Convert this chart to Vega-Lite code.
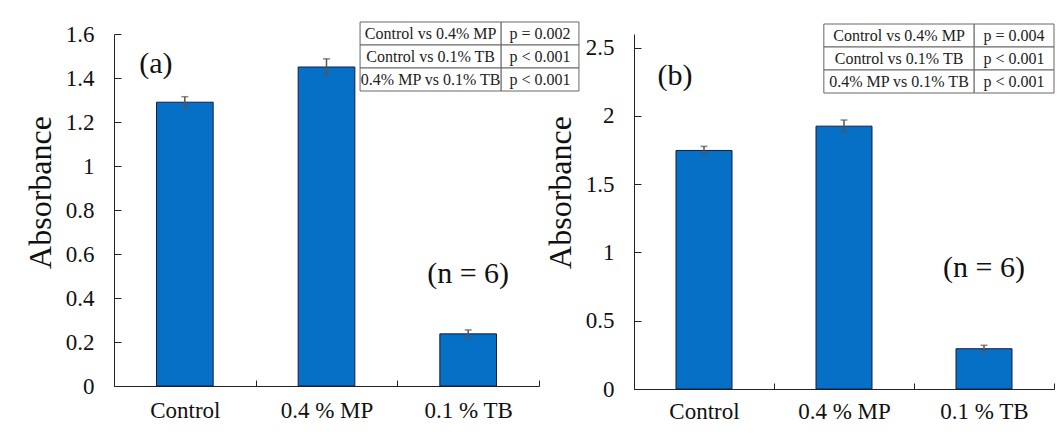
{
  "$schema": "https://vega.github.io/schema/vega-lite/v6.json",
  "background": "white",
  "padding": {"left": 24, "top": 21, "right": 5, "bottom": 5},
  "bounds": "flush",
  "spacing": 95,
  "datasets": {
    "a": [
      {"group": "Control", "value": 1.29, "err": 0.025},
      {"group": "0.4 % MP", "value": 1.45, "err": 0.037},
      {"group": "0.1 % TB", "value": 0.237, "err": 0.018}
    ],
    "b": [
      {"group": "Control", "value": 1.747, "err": 0.03},
      {"group": "0.4 % MP", "value": 1.925, "err": 0.045},
      {"group": "0.1 % TB", "value": 0.295, "err": 0.025}
    ],
    "ta": [
      {"row": 1, "comp": "Control vs 0.4% MP", "p": "p = 0.002"},
      {"row": 2, "comp": "Control vs 0.1% TB", "p": "p < 0.001"},
      {"row": 3, "comp": "0.4% MP vs 0.1% TB", "p": "p < 0.001"}
    ],
    "tb": [
      {"row": 1, "comp": "Control vs 0.4% MP", "p": "p = 0.004"},
      {"row": 2, "comp": "Control vs 0.1% TB", "p": "p < 0.001"},
      {"row": 3, "comp": "0.4% MP vs 0.1% TB", "p": "p < 0.001"}
    ]
  },
  "config": {
    "font": "Liberation Serif",
    "view": {"stroke": null},
    "axis": {
      "grid": false,
      "domainColor": "#222",
      "tickColor": "#222",
      "labelColor": "#111",
      "titleColor": "#111",
      "labelFont": "Liberation Serif",
      "titleFont": "Liberation Serif",
      "titleFontWeight": "normal"
    }
  },
  "hconcat": [
    {
      "width": 425,
      "height": 352,
      "layer": [
        {
          "data": {"name": "a"},
          "layer": [
            {
              "mark": {"type": "bar", "width": {"band": 0.4}, "fill": "#0570C6", "stroke": "#1b1b3a", "strokeWidth": 1},
              "encoding": {
                "x": {"field": "group", "type": "nominal", "sort": null,
                  "scale": {"domain": ["Control", "0.4 % MP", "0.1 % TB"], "paddingInner": 0, "paddingOuter": 0},
                  "axis": {"title": null, "labelAngle": 0, "labelFont": "Liberation Serif", "labelFontSize": 23, "tickSize": -6, "tickBand": "extent", "labelPadding": 19}},
                "y": {"field": "value", "type": "quantitative", "scale": {"domain": [0, 1.6]},
                  "axis": {"title": "Absorbance", "values": [0, 0.2, 0.4, 0.6, 0.8, 1, 1.2, 1.4, 1.6], "format": "~g", "labelFont": "Liberation Serif", "titleFont": "Liberation Serif", "labelFontSize": 23, "titleFontSize": 32, "tickSize": -7, "labelPadding": 27, "titlePadding": 8, "titleY": 158}}
              }
            },
            {
              "mark": {"type": "errorbar", "ticks": {"size": 7}, "color": "#555", "thickness": 1.5},
              "encoding": {
                "x": {"field": "group", "type": "nominal", "sort": null},
                "y": {"field": "value", "type": "quantitative", "title": "Absorbance"},
                "yError": {"field": "err"}
              }
            },
            {
              "data": {"values": [{"label": "(a)", "group": "Control", "y": 1.465}]},
              "mark": {"type": "text", "fontSize": 30, "align": "center", "dx": -29, "color": "#111"},
              "encoding": {
                "x": {"field": "group", "type": "nominal"},
                "y": {"field": "y", "type": "quantitative"},
                "text": {"field": "label"}
              }
            },
            {
              "data": {"values": [{"label": "(n = 6)", "group": "0.1 % TB", "y": 0.51}]},
              "mark": {"type": "text", "fontSize": 30, "align": "center", "color": "#111"},
              "encoding": {
                "x": {"field": "group", "type": "nominal"},
                "y": {"field": "y", "type": "quantitative"},
                "text": {"field": "label"}
              }
            }
          ]
        },
        {
          "data": {"name": "ta"},
          "encoding": {
            "y": {"field": "row", "type": "ordinal", "axis": null, "scale": {"range": [-12, 57], "paddingInner": 0, "paddingOuter": 0}}
          },
          "layer": [
            {
              "mark": {"type": "rect", "fill": "white", "stroke": "#666", "strokeWidth": 1},
              "encoding": {
                "x": {"datum": 0.579, "type": "quantitative", "scale": {"domain": [0, 1], "nice": false, "zero": false}, "axis": null},
                "x2": {"datum": 0.911}
              }
            },
            {
              "mark": {"type": "rect", "fill": "white", "stroke": "#666", "strokeWidth": 1},
              "encoding": {
                "x": {"datum": 0.911, "type": "quantitative"},
                "x2": {"datum": 1.094}
              }
            },
            {
              "mark": {"type": "text", "fontSize": 16, "color": "#222"},
              "encoding": {
                "x": {"datum": 0.745, "type": "quantitative"},
                "text": {"field": "comp"}
              }
            },
            {
              "mark": {"type": "text", "fontSize": 16, "color": "#222"},
              "encoding": {
                "x": {"datum": 1.0025, "type": "quantitative"},
                "text": {"field": "p"}
              }
            }
          ]
        }
      ],
      "resolve": {"scale": {"x": "independent", "y": "independent"}}
    },
    {
      "width": 420,
      "height": 355,
      "layer": [
        {
          "data": {"name": "b"},
          "layer": [
            {
              "mark": {"type": "bar", "width": {"band": 0.4}, "fill": "#0570C6", "stroke": "#1b1b3a", "strokeWidth": 1},
              "encoding": {
                "x": {"field": "group", "type": "nominal", "sort": null,
                  "scale": {"domain": ["Control", "0.4 % MP", "0.1 % TB"], "paddingInner": 0, "paddingOuter": 0},
                  "axis": {"title": null, "labelAngle": 0, "labelFont": "Liberation Serif", "labelFontSize": 23, "tickSize": -6, "tickBand": "extent", "labelPadding": 17}},
                "y": {"field": "value", "type": "quantitative", "scale": {"domain": [0, 2.5]},
                  "axis": {"title": "Absorbance", "values": [0, 0.5, 1, 1.5, 2, 2.5], "format": "~g", "labelFont": "Liberation Serif", "titleFont": "Liberation Serif", "labelFontSize": 23, "titleFontSize": 32, "tickSize": -7, "labelPadding": 27, "titlePadding": 8, "titleY": 158}}
              }
            },
            {
              "mark": {"type": "errorbar", "ticks": {"size": 7}, "color": "#555", "thickness": 1.5},
              "encoding": {
                "x": {"field": "group", "type": "nominal", "sort": null},
                "y": {"field": "value", "type": "quantitative", "title": "Absorbance"},
                "yError": {"field": "err"}
              }
            },
            {
              "data": {"values": [{"label": "(b)", "group": "Control", "y": 2.29}]},
              "mark": {"type": "text", "fontSize": 30, "align": "center", "dx": -29, "color": "#111"},
              "encoding": {
                "x": {"field": "group", "type": "nominal"},
                "y": {"field": "y", "type": "quantitative"},
                "text": {"field": "label"}
              }
            },
            {
              "data": {"values": [{"label": "(n = 6)", "group": "0.1 % TB", "y": 0.885}]},
              "mark": {"type": "text", "fontSize": 30, "align": "center", "color": "#111"},
              "encoding": {
                "x": {"field": "group", "type": "nominal"},
                "y": {"field": "y", "type": "quantitative"},
                "text": {"field": "label"}
              }
            }
          ]
        },
        {
          "data": {"name": "tb"},
          "encoding": {
            "y": {"field": "row", "type": "ordinal", "axis": null, "scale": {"range": [-10, 59], "paddingInner": 0, "paddingOuter": 0}}
          },
          "layer": [
            {
              "mark": {"type": "rect", "fill": "white", "stroke": "#666", "strokeWidth": 1},
              "encoding": {
                "x": {"datum": 0.452, "type": "quantitative", "scale": {"domain": [0, 1], "nice": false, "zero": false}, "axis": null},
                "x2": {"datum": 0.81}
              }
            },
            {
              "mark": {"type": "rect", "fill": "white", "stroke": "#666", "strokeWidth": 1},
              "encoding": {
                "x": {"datum": 0.81, "type": "quantitative"},
                "x2": {"datum": 1.0}
              }
            },
            {
              "mark": {"type": "text", "fontSize": 16, "color": "#222"},
              "encoding": {
                "x": {"datum": 0.631, "type": "quantitative"},
                "text": {"field": "comp"}
              }
            },
            {
              "mark": {"type": "text", "fontSize": 16, "color": "#222"},
              "encoding": {
                "x": {"datum": 0.905, "type": "quantitative"},
                "text": {"field": "p"}
              }
            }
          ]
        }
      ],
      "resolve": {"scale": {"x": "independent", "y": "independent"}}
    }
  ]
}
